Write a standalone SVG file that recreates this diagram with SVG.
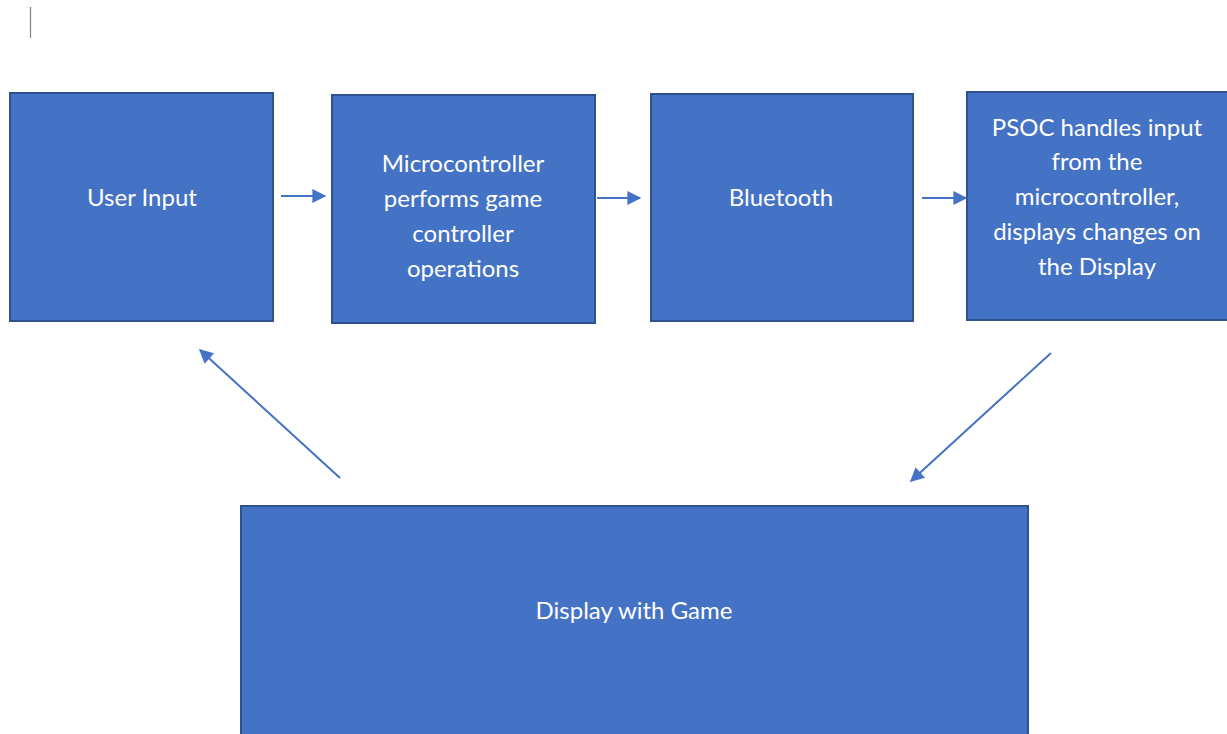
<svg xmlns="http://www.w3.org/2000/svg" width="1227" height="734" viewBox="0 0 1227 734">
<style>
.box{fill:#4472C4;stroke:#2F528F;stroke-width:2}
.lbl{fill:#ffffff;font-family:Lato,"Open Sans","Liberation Sans",sans-serif;font-size:24px;text-anchor:middle}
.con{stroke:#4472C4;stroke-width:2;fill:none;marker-end:url(#ah)}
</style>
<defs>
<marker id="ah" viewBox="0 0 10 10" refX="9" refY="5" markerWidth="7.5" markerHeight="7" orient="auto" markerUnits="strokeWidth">
<path d="M0,0 L10,5 L0,10 z" fill="#4472C4"/>
</marker>
</defs>
<rect width="1227" height="734" fill="#ffffff"/>
<line x1="30.5" y1="7" x2="30.5" y2="38" stroke="#808080" stroke-width="1.2"/>
<g id="node-user-input">
<rect class="box" x="10" y="93" width="263" height="228"/>
<text class="lbl" x="142" y="206">User Input</text>
</g>
<g id="node-microcontroller">
<rect class="box" x="332" y="95" width="263" height="228"/>
<text class="lbl" x="463" y="172">Microcontroller</text>
<text class="lbl" x="463" y="207">performs game</text>
<text class="lbl" x="463" y="242">controller</text>
<text class="lbl" x="463" y="277">operations</text>
</g>
<g id="node-bluetooth">
<rect class="box" x="651" y="94" width="262" height="227"/>
<text class="lbl" x="781" y="206">Bluetooth</text>
</g>
<g id="node-psoc">
<rect class="box" x="967" y="92" width="270" height="228"/>
<text class="lbl" x="1097" y="136">PSOC handles input</text>
<text class="lbl" x="1097" y="170">from the</text>
<text class="lbl" x="1097" y="205">microcontroller,</text>
<text class="lbl" x="1097" y="240">displays changes on</text>
<text class="lbl" x="1097" y="275">the Display</text>
</g>
<g id="node-display">
<rect class="box" x="241" y="506" width="787" height="240"/>
<text class="lbl" x="634" y="619">Display with Game</text>
</g>
<g id="connectors">
<line class="con" x1="281" y1="196" x2="325" y2="196"/>
<line class="con" x1="597" y1="198" x2="640" y2="198"/>
<line class="con" x1="922" y1="198" x2="966" y2="198"/>
<line class="con" x1="340" y1="478" x2="200" y2="350"/>
<line class="con" x1="1051" y1="353" x2="911" y2="481"/>
</g>
</svg>
